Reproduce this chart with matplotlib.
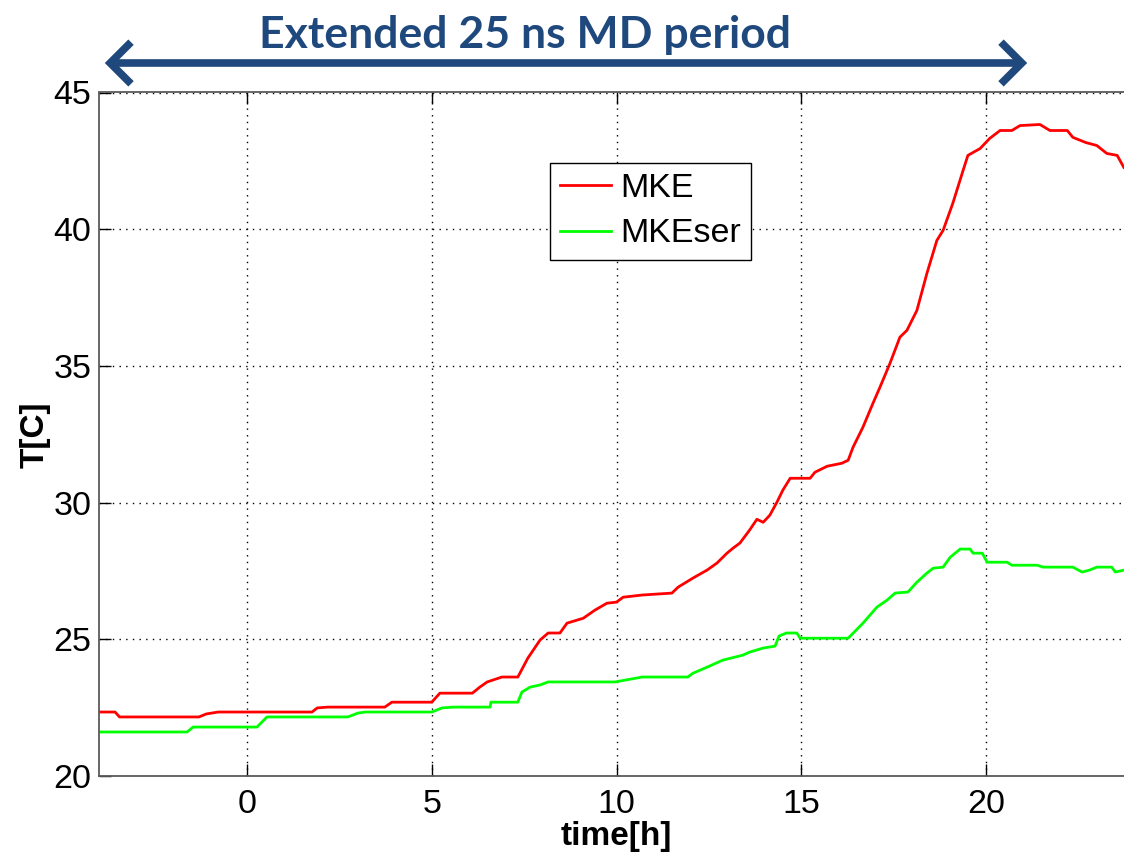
import matplotlib
matplotlib.use("Agg")
import matplotlib.pyplot as plt
from matplotlib.patches import FancyArrowPatch

# ---- data ----
mke_t = [-4.03, -3.57, -3.45, -1.30, -1.10, -0.78, 1.76, 1.90, 2.19, 3.73, 3.92, 5.00, 5.22,
         6.10, 6.30, 6.50, 6.90, 7.33, 7.60, 7.93, 8.15, 8.47, 8.66, 9.10, 9.42, 9.74, 10.00,
         10.18, 10.70, 11.50, 11.67, 12.07, 12.45, 12.72, 12.99, 13.15, 13.34, 13.60, 13.80,
         13.97, 14.15, 14.34, 14.50, 14.70, 15.24, 15.37, 15.70, 16.10, 16.27, 16.40, 16.67,
         16.94, 17.13, 17.40, 17.67, 17.86, 18.13, 18.40, 18.67, 18.84, 19.10, 19.38, 19.51,
         19.84, 20.10, 20.38, 20.70, 20.92, 21.46, 21.73, 22.20, 22.35, 22.70, 23.00, 23.27,
         23.55, 23.73]
mke_T = [22.34, 22.34, 22.16, 22.16, 22.27, 22.34, 22.34, 22.49, 22.52, 22.52, 22.70, 22.70, 23.03,
         23.03, 23.25, 23.44, 23.62, 23.62, 24.31, 24.97, 25.23, 25.23, 25.59, 25.77, 26.07, 26.32, 26.36,
         26.54, 26.62, 26.69, 26.91, 27.24, 27.53, 27.79, 28.15, 28.33, 28.52, 28.99, 29.39,
         29.28, 29.54, 30.01, 30.45, 30.89, 30.89, 31.11, 31.33, 31.44, 31.55, 32.02, 32.76,
         33.63, 34.22, 35.09, 36.05, 36.30, 37.03, 38.38, 39.59, 39.96, 40.94, 42.15, 42.70,
         42.95, 43.32, 43.61, 43.61, 43.79, 43.83, 43.61, 43.61, 43.36, 43.17, 43.06, 42.77,
         42.70, 42.26]

ser_t = [-4.03, -1.62, -1.46, 0.27, 0.54, 2.73, 3.00, 3.20, 5.00, 5.28, 5.58, 6.58, 6.60,
         7.33, 7.44, 7.66, 7.93, 8.15, 9.96, 10.70, 11.93, 12.07, 12.45, 12.88, 13.42, 13.60,
         13.97, 14.29, 14.40, 14.60, 14.88, 14.97, 16.27, 16.67, 17.05, 17.32, 17.54, 17.89,
         18.13, 18.40, 18.57, 18.84, 19.03, 19.30, 19.57, 19.65, 19.90, 20.03, 20.57, 20.70,
         21.38, 21.55, 22.35, 22.60, 22.80, 23.00, 23.40, 23.50, 23.73]
ser_T = [21.61, 21.61, 21.79, 21.79, 22.16, 22.16, 22.30, 22.34, 22.34, 22.49, 22.52, 22.52, 22.70,
         22.70, 23.07, 23.25, 23.33, 23.44, 23.44, 23.62, 23.62, 23.76, 23.98, 24.24, 24.42, 24.53,
         24.68, 24.75, 25.12, 25.23, 25.23, 25.04, 25.04, 25.59, 26.18, 26.43, 26.69, 26.73,
         27.09, 27.42, 27.60, 27.64, 28.00, 28.30, 28.30, 28.15, 28.15, 27.82, 27.82, 27.71,
         27.71, 27.64, 27.64, 27.46, 27.53, 27.64, 27.64, 27.46, 27.53]

series_labels = ["MKE", "MKEser"]
x_ticks = [0, 5, 10, 15, 20]
y_ticks = [20, 25, 30, 35, 40, 45]
x_label = "time[h]"
y_label = "T[C]"
banner = "Extended 25 ns MD period"

# ---- figure ----
W, H = 1124, 855
fig = plt.figure(figsize=(W / 100, H / 100), dpi=100)
px_unit = 36.95
left_px, bottom_px, top_px = 99.2, 855 - 776, 92.5
ax = fig.add_axes([left_px / W, bottom_px / H, 28 * px_unit / W, (855 - top_px - bottom_px) / H])

tick_font = ["Liberation Sans", "DejaVu Sans"]
ax.plot(mke_t, mke_T, color="#FF0000", lw=2.0, label=series_labels[0])
ax.plot(ser_t, ser_T, color="#00FF00", lw=2.0, label=series_labels[1])

ax.set_xlim(-4, 24)
ax.set_ylim(20, 45)
ax.set_xticks(x_ticks)
ax.set_yticks(y_ticks)
ax.grid(True, color="black", linestyle=(0, (1, 3.8)), linewidth=1.0)
ax.tick_params(direction="in", length=8.5, width=1.0, top=True, right=False,
               labelsize=24.5, color="black")
ax.tick_params(axis="y", pad=5.5)
ax.tick_params(axis="x", pad=9)
for lab in ax.get_xticklabels() + ax.get_yticklabels():
    lab.set_family(tick_font)
for s in ax.spines.values():
    s.set_color("#5a5a5a")
    s.set_linewidth(1.3)

ax.set_xlabel(x_label, fontsize=24, fontweight="bold", family=tick_font, labelpad=1)
ax.set_ylabel(y_label, fontsize=24, fontweight="bold", family=tick_font, labelpad=2)

leg = ax.legend(loc="upper left", bbox_to_anchor=((550 - left_px) / (28 * px_unit), (776 - 163) / (776 - 92.5)),
                borderaxespad=0, fancybox=False, framealpha=1, edgecolor="black",
                prop={"family": tick_font, "size": 24.5}, handlelength=1.5,
                handletextpad=0.25, borderpad=0.3, labelspacing=0.42)
leg.get_frame().set_linewidth(1.0)

# banner arrow and text
arrow = FancyArrowPatch((102 / W, 1 - 63 / H), (1030 / W, 1 - 63 / H),
                        transform=fig.transFigure, arrowstyle="<->,head_length=1.0,head_width=1.0",
                        mutation_scale=15, lw=5.5, color="#1F497D", joinstyle="miter", capstyle="butt")
fig.patches.append(arrow)
fig.text(525 / W, 1 - 48 / H, banner, ha="center", va="baseline",
         fontsize=32, fontweight="bold", color="#1F497D",
         family=["Lato", "DejaVu Sans"])

fig.savefig("out.png", dpi=100)
